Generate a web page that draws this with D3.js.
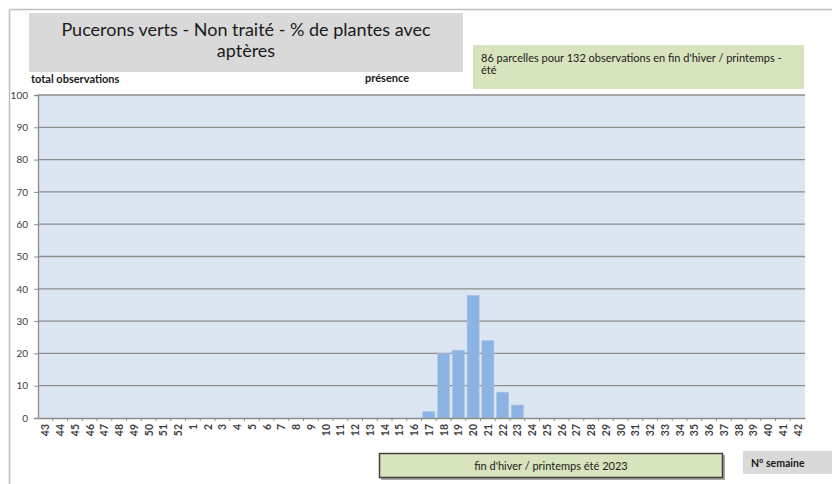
<!DOCTYPE html>
<html><head><meta charset="utf-8">
<script src="https://cdn.jsdelivr.net/npm/d3@7"></script>
<style>
html,body{margin:0;padding:0;background:#fff;}
svg{display:block;font-family:Lato,"Open Sans",sans-serif;}
</style></head>
<body>
<svg id="c" width="832" height="484"></svg>
<script>
const weeks = ["43","44","45","46","47","48","49","50","51","52","1","2","3","4","5","6","7","8","9","10","11","12","13","14","15","16","17","18","19","20","21","22","23","24","25","26","27","28","29","30","31","32","33","34","35","36","37","38","39","40","41","42"];
const presence = [0,0,0,0,0,0,0,0,0,0,0,0,0,0,0,0,0,0,0,0,0,0,0,0,0,0,2,20,21,38,24,8,4,0,0,0,0,0,0,0,0,0,0,0,0,0,0,0,0,0,0,0];
const yTicks = [0,10,20,30,40,50,60,70,80,90,100];
const titleLines = ["Pucerons verts - Non traité - % de plantes avec","aptères"];
const noteLines = ["86 parcelles pour 132 observations en fin d'hiver / printemps -","été"];
const periodLabel = "fin d'hiver / printemps été 2023";
const xAxisTitle = "N° semaine";
const leftLabel = "total observations";
const seriesLabel = "présence";

const svg = d3.select("#c");
const m = {l:38, r:805, t:95, b:418};
const x = d3.scaleBand().domain(weeks).range([m.l, m.r]).paddingInner(0.18).paddingOuter(0.09);
const xb = d3.scaleBand().domain(weeks).range([m.l, m.r]);
const y = d3.scaleLinear().domain([0,100]).range([m.b, m.t]);

// outer frame
svg.append("line").attr("x1",9.5).attr("x2",832).attr("y1",9.5).attr("y2",9.5).attr("stroke","#bfbfbf").attr("stroke-width",1.5);
svg.append("line").attr("x1",9.5).attr("x2",9.5).attr("y1",9.5).attr("y2",484).attr("stroke","#bfbfbf").attr("stroke-width",1.5);

// plot bg
svg.append("rect").attr("x",m.l).attr("y",m.t).attr("width",m.r-m.l).attr("height",m.b-m.t).attr("fill","#dce6f2");

// gridlines
svg.append("g").selectAll("line").data(yTicks.filter(d=>d>0)).join("line")
  .attr("x1",m.l).attr("x2",m.r).attr("y1",d=>y(d)).attr("y2",d=>y(d))
  .attr("stroke","#8c8c8c").attr("stroke-width",1.3);

// bars
svg.append("g").selectAll("rect").data(weeks.map((w,i)=>({w,v:presence[i]})).filter(d=>d.v>0)).join("rect")
  .attr("x",d=>x(d.w)).attr("width",x.bandwidth())
  .attr("y",d=>y(d.v)).attr("height",d=>y(0)-y(d.v))
  .attr("fill","#8db3e2").attr("stroke","#a9c6ea").attr("stroke-width",0.6);

// y axis
const ya = svg.append("g").attr("transform",`translate(${m.l},0)`)
  .call(d3.axisLeft(y).tickValues(yTicks).tickSize(4).tickPadding(6));
ya.select(".domain").attr("stroke","#8c8c8c").attr("stroke-width",1.3);
ya.selectAll(".tick line").attr("stroke","#8c8c8c");
ya.selectAll(".tick text").attr("fill","#404040").attr("font-size",10).attr("font-family","Lato,sans-serif");

// x axis
const xa = svg.append("g").attr("transform",`translate(0,${m.b})`)
  .call(d3.axisBottom(xb).tickSize(0).tickPadding(0));
xa.select(".domain").attr("stroke","#8c8c8c").attr("stroke-width",1.3);
xa.selectAll(".tick text").attr("fill","#404040").attr("font-size",10.5).attr("font-weight","bold")
  .attr("font-family","Lato,sans-serif")
  .attr("text-anchor","end").attr("dy",null)
  .attr("transform","translate(4,6) rotate(-90)");
// tick marks at band boundaries
svg.append("g").selectAll("line").data(weeks.slice(1)).join("line")
  .attr("x1",d=>xb(d)).attr("x2",d=>xb(d)).attr("y1",m.b).attr("y2",m.b+3)
  .attr("stroke","#8c8c8c");

// title box
svg.append("rect").attr("x",29).attr("y",13).attr("width",434).attr("height",59).attr("fill","#d9d9d9");
svg.append("g").selectAll("text").data(titleLines).join("text")
  .attr("x",246).attr("y",(d,i)=>36+i*21).attr("text-anchor","middle")
  .attr("font-size",18).attr("fill","#1a1a1a").attr("font-family","Lato,sans-serif").text(d=>d);

// note box
svg.append("rect").attr("x",473).attr("y",45).attr("width",331).attr("height",44).attr("fill","#d7e4bd");
svg.append("g").selectAll("text").data(noteLines).join("text")
  .attr("x",481).attr("y",(d,i)=>62+i*12).attr("font-size",11).attr("fill","#1a1a1a").text(d=>d);

// labels above plot
svg.append("text").attr("x",31).attr("y",83).attr("font-size",11).attr("font-weight","bold").attr("fill","#1a1a1a").text(leftLabel);
svg.append("text").attr("x",365).attr("y",82).attr("font-size",11).attr("font-weight","bold").attr("fill","#1a1a1a").text(seriesLabel);

// period box with shadow
svg.append("rect").attr("x",381).attr("y",455).attr("width",344).attr("height",25).attr("fill","#a6a6a6");
svg.append("rect").attr("x",379.5).attr("y",453.5).attr("width",343).attr("height",24).attr("fill","#d7e4bd").attr("stroke","#404040").attr("stroke-width",1.5);
svg.append("text").attr("x",551).attr("y",469.5).attr("text-anchor","middle").attr("font-size",11).attr("fill","#1a1a1a").text(periodLabel);

// N° semaine box
svg.append("rect").attr("x",743).attr("y",451).attr("width",89).attr("height",23).attr("fill","#d9d9d9");
svg.append("text").attr("x",751).attr("y",466.5).attr("font-size",10.5).attr("font-weight","bold").attr("fill","#1a1a1a").text(xAxisTitle);
</script>
</body></html>
